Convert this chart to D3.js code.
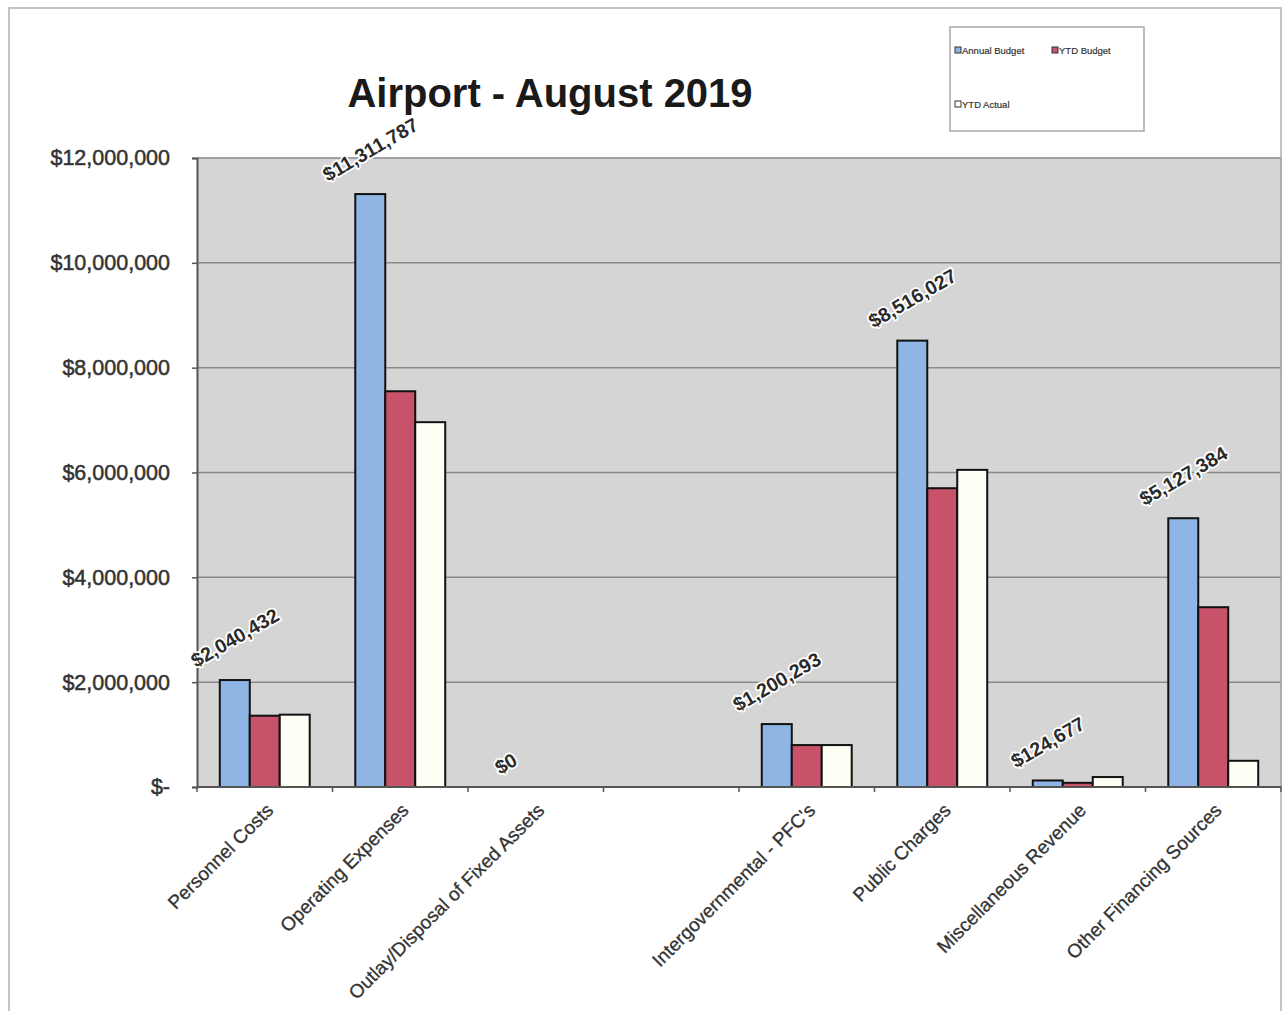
<!DOCTYPE html>
<html>
<head>
<meta charset="utf-8">
<script src="https://cdn.jsdelivr.net/npm/d3@7"></script>
<style>
  html, body { margin: 0; padding: 0; background: #fff; }
  svg { display: block; font-family: "Liberation Sans", Arial, sans-serif; }
</style>
</head>
<body>
<svg id="chart" width="1284" height="1011"></svg>
<script>
// Airport budget vs actual, August 2019
const categories = [
  "Personnel Costs",
  "Operating Expenses",
  "Outlay/Disposal of Fixed Assets",
  "",
  "Intergovernmental - PFC's",
  "Public Charges",
  "Miscellaneous Revenue",
  "Other Financing Sources"
];
const seriesNames = ["Annual Budget", "YTD Budget", "YTD Actual"];
const annualBudget = [2040432, 11311787, 0, null, 1200293, 8516027, 124677, 5127384];
const ytdBudget    = [1360000, 7550000, 0, null, 800000, 5700000, 80000, 3430000];
const ytdActual    = [1380000, 6960000, 0, null, 800000, 6050000, 190000, 500000];
const yTicks = [0, 2000000, 4000000, 6000000, 8000000, 10000000, 12000000];
const seriesColors = ["#8fb5e5", "#c7526a", "#fffff6"];

const svg = d3.select("#chart");
const plot = { left: 197, right: 1281, top: 158, bottom: 787 };

// outer chart frame
svg.append("rect")
  .attr("x", 9).attr("y", 8).attr("width", 1272).attr("height", 1010)
  .attr("fill", "none").attr("stroke", "#b0b0b0").attr("stroke-width", 1.5);

const x0 = d3.scaleBand().domain(d3.range(categories.length))
  .range([plot.left, plot.right]).paddingInner(0).paddingOuter(0);
const x1 = d3.scaleBand().domain(d3.range(seriesNames.length))
  .range([0, x0.bandwidth()]).paddingInner(0).paddingOuter(0.76);
const y = d3.scaleLinear().domain([0, 12000000]).range([plot.bottom, plot.top]);

// plot background
svg.append("rect")
  .attr("x", plot.left).attr("y", plot.top)
  .attr("width", plot.right - plot.left).attr("height", plot.bottom - plot.top)
  .attr("fill", "#d5d5d5");

// gridlines
svg.append("g").selectAll("line").data(yTicks.filter(d => d > 0)).join("line")
  .attr("x1", plot.left).attr("x2", plot.right)
  .attr("y1", d => y(d)).attr("y2", d => y(d))
  .attr("stroke", "#8a8a8a").attr("stroke-width", 1.5);

// right edge of plot
svg.append("line")
  .attr("x1", plot.right).attr("x2", plot.right)
  .attr("y1", plot.top).attr("y2", plot.bottom)
  .attr("stroke", "#a0a0a0").attr("stroke-width", 1.5);

// bars
const seriesData = [annualBudget, ytdBudget, ytdActual];
const barG = svg.append("g");
seriesData.forEach((vals, s) => {
  barG.append("g").selectAll("rect")
    .data(vals.map((v, i) => ({ i, v })).filter(d => d.v !== null))
    .join("rect")
    .attr("x", d => x0(d.i) + x1(s))
    .attr("width", x1.bandwidth())
    .attr("y", d => y(d.v))
    .attr("height", d => y(0) - y(d.v))
    .attr("fill", seriesColors[s])
    .attr("stroke", "#111")
    .attr("stroke-width", 2);
});

// y axis
const yAxis = d3.axisLeft(y).tickValues(yTicks).tickSize(5).tickPadding(22)
  .tickFormat(d => d === 0 ? "$-" : "$" + d3.format(",")(d));
const gy = svg.append("g").attr("transform", `translate(${plot.left},0)`).call(yAxis);
gy.select(".domain").attr("stroke", "#555").attr("stroke-width", 2);
gy.selectAll(".tick line").attr("stroke", "#555").attr("stroke-width", 1.5);
gy.selectAll(".tick text")
  .attr("font-size", 21.5).attr("fill", "#333")
  .attr("stroke", "#333").attr("stroke-width", 0.5)
  .attr("font-family", "Liberation Sans, Arial, sans-serif");

// x axis with ticks between categories
svg.append("line")
  .attr("x1", plot.left).attr("x2", plot.right)
  .attr("y1", plot.bottom).attr("y2", plot.bottom)
  .attr("stroke", "#555").attr("stroke-width", 2);
svg.append("g").selectAll("line")
  .data(d3.range(categories.length + 1)).join("line")
  .attr("x1", i => plot.left + i * x0.step()).attr("x2", i => plot.left + i * x0.step())
  .attr("y1", plot.bottom).attr("y2", plot.bottom + 5)
  .attr("stroke", "#555").attr("stroke-width", 1.5);

// category labels, rotated
svg.append("g").selectAll("text")
  .data(categories.map((c, i) => ({ c, i })).filter(d => d.c !== ""))
  .join("text")
  .attr("transform", d => `translate(${x0(d.i) + x0.bandwidth() / 2 + 5},${plot.bottom + 20}) rotate(-45)`)
  .attr("text-anchor", "end")
  .attr("dominant-baseline", "central")
  .attr("font-size", 19)
  .attr("fill", "#333")
  .attr("stroke", "#333").attr("stroke-width", 0.3)
  .text(d => d.c);

// value labels above the annual budget bars
const labelG = svg.append("g");
annualBudget.forEach((v, i) => {
  if (v === null) return;
  const cx = x0(i) + x1(0) + x1.bandwidth() / 2;
  const t = labelG.append("text")
    .attr("text-anchor", "middle")
    .attr("dominant-baseline", "central")
    .attr("font-size", 19.5).attr("font-weight", "bold")
    .attr("fill", "#2a2a2a")
    .attr("stroke", "#fff").attr("stroke-width", 3.5)
    .attr("paint-order", "stroke")
    .attr("stroke-linejoin", "round")
    .text("$" + d3.format(",")(v));
  const len = t.node().getComputedTextLength();
  const half = (len / 2) * Math.sin(Math.PI / 6) + 7 * Math.cos(Math.PI / 6);
  const cy = y(v) - 12 - half;
  t.attr("transform", `translate(${cx},${cy}) rotate(-30)`);
});

// title
svg.append("text")
  .attr("x", 550).attr("y", 107)
  .attr("text-anchor", "middle")
  .attr("font-size", 40).attr("font-weight", "bold")
  .attr("fill", "#1a1a1a")
  .text("Airport - August 2019");

// legend
const legend = svg.append("g");
legend.append("rect")
  .attr("x", 950).attr("y", 27).attr("width", 194).attr("height", 104)
  .attr("fill", "#fff").attr("stroke", "#a8a8a8").attr("stroke-width", 1.5);
const legendPos = [[955, 50], [1052, 50], [955, 104]];
seriesNames.forEach((name, s) => {
  const [lx, ly] = legendPos[s];
  legend.append("rect")
    .attr("x", lx).attr("y", ly - 3).attr("width", 6).attr("height", 6)
    .attr("fill", seriesColors[s]).attr("stroke", "#333").attr("stroke-width", 1);
  legend.append("text")
    .attr("x", lx + 7).attr("y", ly)
    .attr("dominant-baseline", "central")
    .attr("font-size", 9.5).attr("fill", "#333")
    .attr("stroke", "#333").attr("stroke-width", 0.2)
    .text(name);
});
</script>
</body>
</html>
